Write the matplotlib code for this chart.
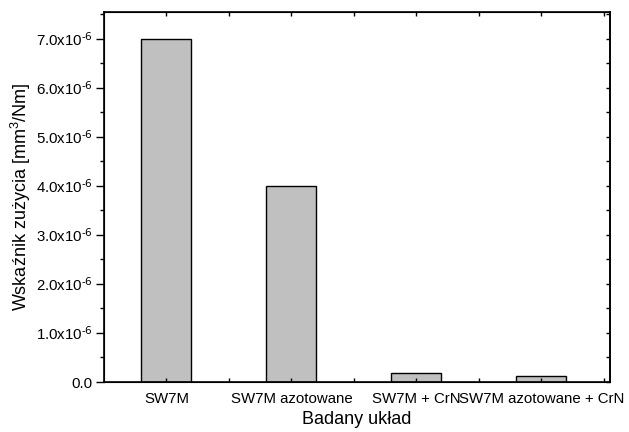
import numpy as np
import matplotlib.pyplot as plt
from matplotlib.ticker import MultipleLocator, FixedLocator, FuncFormatter

plt.rcParams['font.family'] = ['Liberation Sans', 'DejaVu Sans']
plt.rcParams['mathtext.default'] = 'regular'

# Data
categories = ['SW7M', 'SW7M azotowane', 'SW7M + CrN', 'SW7M azotowane + CrN']
wear = [7.0e-6, 4.0e-6, 0.18e-6, 0.13e-6]

fig = plt.figure(figsize=(6.29, 4.32), dpi=100)
ax = fig.add_axes([104 / 629, 50 / 432, 506 / 629, 370 / 432])

x = np.arange(1, len(categories) + 1)
ax.bar(x, wear, width=0.4, color='#c0c0c0', edgecolor='black', linewidth=1.0)

ax.set_xlim(0.5, 4.55)
ax.set_ylim(0, 7.55e-6)

# y ticks
ax.yaxis.set_major_locator(MultipleLocator(1e-6))
ax.yaxis.set_minor_locator(MultipleLocator(0.5e-6))

def fmt(v, pos):
    if abs(v) < 1e-12:
        return '0.0'
    return '%.1fx10$^{\\text{-6}}$' % (v / 1e-6)

ax.yaxis.set_major_formatter(FuncFormatter(fmt))

ax.set_xticks(x)
ax.set_xticklabels(categories)
ax.xaxis.set_minor_locator(FixedLocator([1.5, 2.5, 3.5, 4.5]))

for s in ax.spines.values():
    s.set_linewidth(1.2)

ax.tick_params(axis='y', which='major', direction='out', length=6, width=1, labelsize=10.8, pad=2, left=True, right=False)
ax.tick_params(axis='y', which='minor', direction='out', length=3, width=1, left=True, right=False)
ax.tick_params(axis='x', which='both', direction='in', length=3, width=1, top=True, bottom=True, labelsize=10.8, pad=7)

# right axis ticks inward
ax2 = ax.twinx()
ax2.set_ylim(ax.get_ylim())
ax2.yaxis.set_major_locator(MultipleLocator(0.5e-6))
ax2.tick_params(axis='y', direction='in', length=3, width=1, labelright=False)
ax2.spines['right'].set_linewidth(1.2)

ax.set_xlabel('Badany układ', fontsize=13, labelpad=4)
ax.set_ylabel('Wskaźnik zużycia [mm$^3$/Nm]', fontsize=13, labelpad=2)

fig.savefig('out.png', dpi=100)
